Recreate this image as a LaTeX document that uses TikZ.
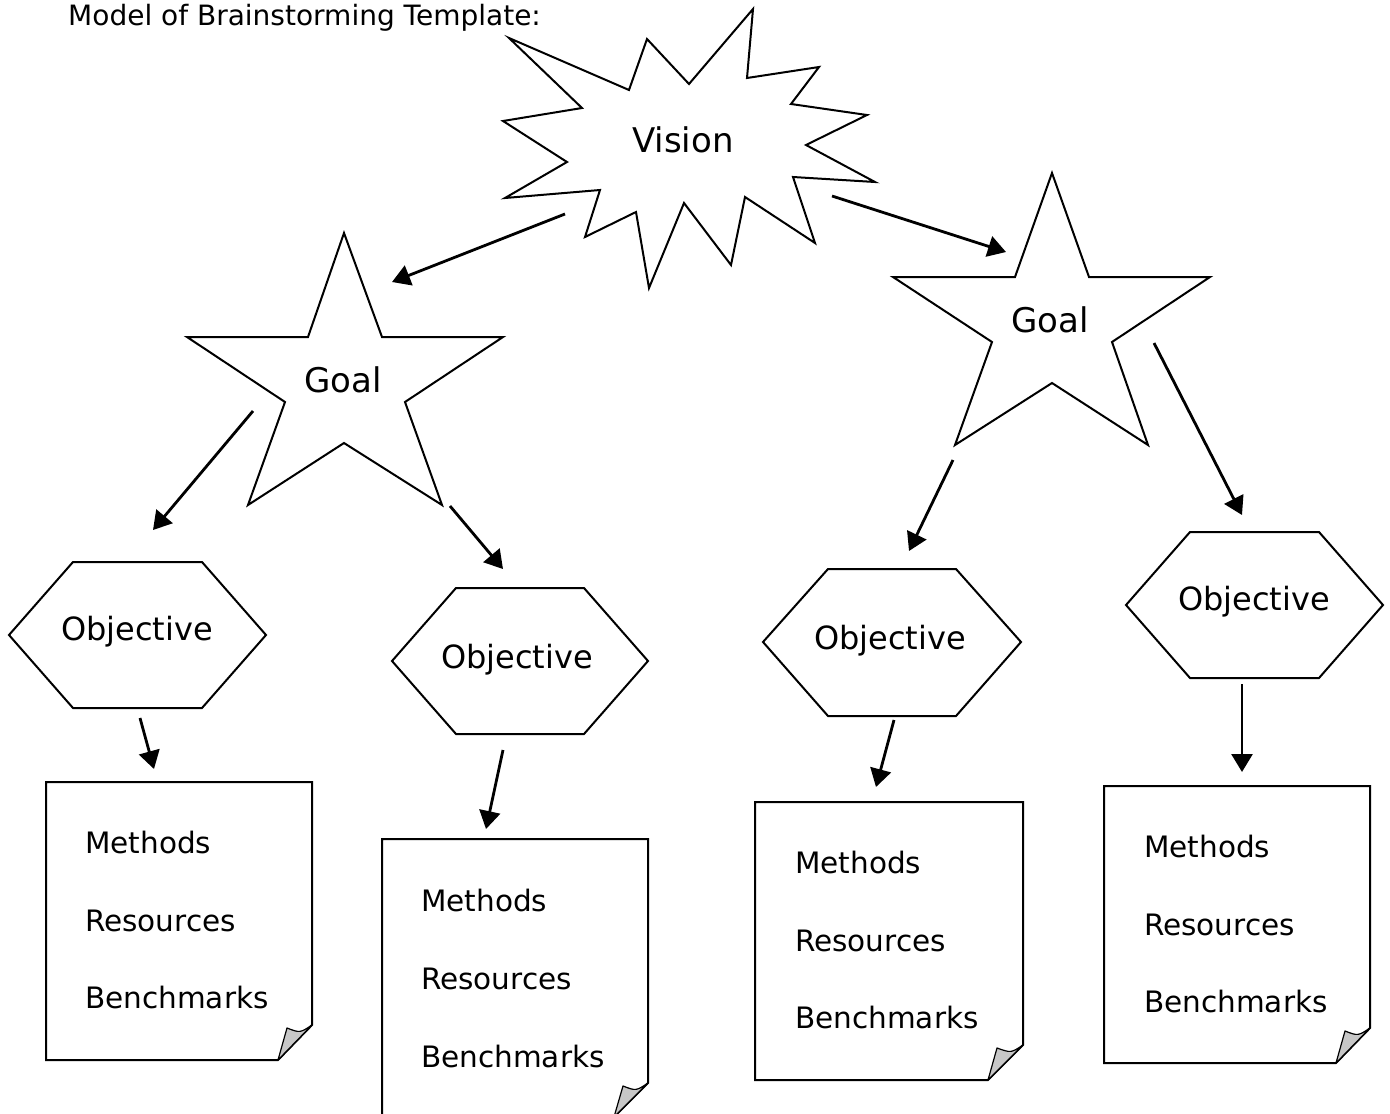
\documentclass[tikz,border=0pt]{standalone}
\usepackage{fontspec}
\setmainfont{DejaVu Sans}
\usetikzlibrary{arrows.meta}
\begin{document}
\begin{tikzpicture}[x=1pt,y=-1pt,
  outline/.style={draw=black,line width=2pt,line join=miter},
  flap/.style={draw=black,line width=1.2pt,fill=black!22,line join=round},
  arr/.style={line width=2.8pt,-{Triangle[length=18pt,width=21pt]}},
  visiontxt/.style={font=\fontsize{34}{40}\selectfont},
  goaltxt/.style={font=\fontsize{34}{40}\selectfont},
  objtxt/.style={font=\fontsize{32}{38}\selectfont},
  pagetxt/.style={anchor=base west,inner sep=0pt,font=\fontsize{29.5}{35}\selectfont},
  titletxt/.style={anchor=base west,inner sep=0pt,font=\fontsize{28}{34}\selectfont}]
\useasboundingbox (0,0) rectangle (1390,1114);
\clip (0,0) rectangle (1390,1114);

% title
\node[titletxt] (title) at (68,25) {Model of Brainstorming Template:};

% Vision burst
\draw[outline] (509,38) -- (629,90) -- (647,39) -- (689,84) -- (753,9) -- (747,78)
  -- (819,67) -- (791,104) -- (867,115) -- (806,145) -- (875,182) -- (793,177)
  -- (815,243) -- (745,197) -- (731,265) -- (684,203) -- (649,288) -- (636,212)
  -- (585,237) -- (600,190) -- (505,198) -- (567,162) -- (503,121) -- (582,108) -- cycle;
\node[visiontxt] (vision) at (683,140) {Vision};

% Goal stars
\draw[outline] (344,233) -- (382,337) -- (503,337) -- (405,402) -- (442,505)
  -- (344,443) -- (248,505) -- (285,402) -- (187,337) -- (308,337) -- cycle;
\node[goaltxt] (goalL) at (343,380) {Goal};
\draw[outline] (1052,173) -- (1089,277) -- (1210,277) -- (1112,342) -- (1148,445)
  -- (1052,383) -- (955,445) -- (992,342) -- (893,277) -- (1015,277) -- cycle;
\node[goaltxt] (goalR) at (1050,320) {Goal};

% Objective hexagons
\draw[outline] (9,635) -- (73,562) -- (202,562) -- (266,635) -- (202,708) -- (73,708) -- cycle;
\node[objtxt] (obj1) at (137,632) {Objective};
\draw[outline] (392,661) -- (456,588) -- (584,588) -- (648,661) -- (584,734) -- (456,734) -- cycle;
\node[objtxt] (obj2) at (517,660) {Objective};
\draw[outline] (763,642) -- (828,569) -- (956,569) -- (1021,642) -- (956,716) -- (828,716) -- cycle;
\node[objtxt] (obj3) at (890,641) {Objective};
\draw[outline] (1126,605) -- (1190,532) -- (1319,532) -- (1383,605) -- (1319,678) -- (1190,678) -- cycle;
\node[objtxt] (obj4) at (1254,602) {Objective};

% Pages with folded corner
\draw[outline] (46,782) -- (312,782) -- (312,1025) -- (278,1060) -- (46,1060) -- cycle;
\draw[flap] (278,1060) -- (312,1025) .. controls (300,1033) .. (287,1028) -- cycle;
\node[pagetxt] (p1a) at (85,853) {Methods};
\node[pagetxt] (p1b) at (85,931) {Resources};
\node[pagetxt] (p1c) at (85,1008) {Benchmarks};

\draw[outline] (382,839) -- (648,839) -- (648,1083) -- (614,1117) -- (382,1117) -- cycle;
\draw[flap] (614,1117) -- (648,1083) .. controls (636,1091) .. (623,1086) -- cycle;
\node[pagetxt] (p2a) at (421,911) {Methods};
\node[pagetxt] (p2b) at (421,989) {Resources};
\node[pagetxt] (p2c) at (421,1067) {Benchmarks};

\draw[outline] (755,802) -- (1023,802) -- (1023,1045) -- (988,1080) -- (755,1080) -- cycle;
\draw[flap] (988,1080) -- (1023,1045) .. controls (1011,1053) .. (997,1048) -- cycle;
\node[pagetxt] (p3a) at (795,873) {Methods};
\node[pagetxt] (p3b) at (795,951) {Resources};
\node[pagetxt] (p3c) at (795,1028) {Benchmarks};

\draw[outline] (1104,786) -- (1370,786) -- (1370,1028) -- (1336,1063) -- (1104,1063) -- cycle;
\draw[flap] (1336,1063) -- (1370,1028) .. controls (1358,1036) .. (1345,1031) -- cycle;
\node[pagetxt] (p4a) at (1144,857) {Methods};
\node[pagetxt] (p4b) at (1144,935) {Resources};
\node[pagetxt] (p4c) at (1144,1012) {Benchmarks};

% connector end points
\coordinate (vL) at (565,214);   \coordinate (gLin) at (392,282);
\coordinate (vR) at (832,196);   \coordinate (gRin) at (1006,252);
\coordinate (gL1) at (253,411);  \coordinate (o1in) at (153,530);
\coordinate (gL2) at (450,506);  \coordinate (o2in) at (503,569);
\coordinate (gR3) at (953,460);  \coordinate (o3in) at (909,551);
\coordinate (gR4) at (1154,343); \coordinate (o4in) at (1242,515);
\coordinate (o1out) at (140,718);  \coordinate (p1in) at (154,769);
\coordinate (o2out) at (503,750);  \coordinate (p2in) at (486,829);
\coordinate (o3out) at (894,720);  \coordinate (p3in) at (876,787);
\coordinate (o4out) at (1242,684); \coordinate (p4in) at (1242,772);

% connectors
\draw[arr] (vL) -- (gLin);
\draw[arr] (vR) -- (gRin);
\draw[arr] (gL1) -- (o1in);
\draw[arr] (gL2) -- (o2in);
\draw[arr] (gR3) -- (o3in);
\draw[arr] (gR4) -- (o4in);
\draw[arr] (o1out) -- (p1in);
\draw[arr] (o2out) -- (p2in);
\draw[arr] (o3out) -- (p3in);
\draw[arr] (o4out) -- (p4in);
\end{tikzpicture}
\end{document}
